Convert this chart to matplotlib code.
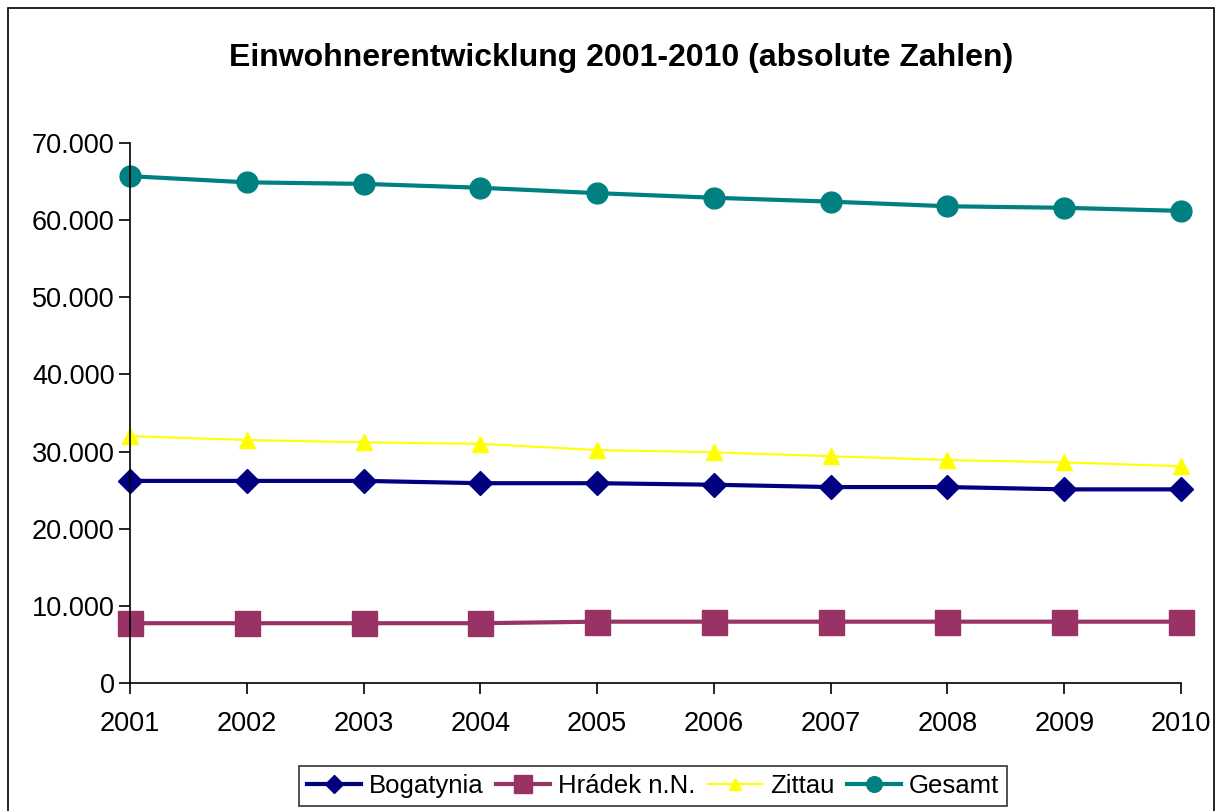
import matplotlib.pyplot as plt
from matplotlib.ticker import FuncFormatter
from matplotlib.patches import Rectangle

plt.rcParams['font.family'] = ['Liberation Sans', 'DejaVu Sans']

years = [2001, 2002, 2003, 2004, 2005, 2006, 2007, 2008, 2009, 2010]
bogatynia = [26200, 26200, 26200, 25900, 25900, 25700, 25400, 25400, 25100, 25100]
hradek = [7750, 7750, 7750, 7750, 7950, 7950, 7950, 7950, 7950, 7950]
zittau = [32000, 31500, 31200, 31000, 30200, 29900, 29400, 28900, 28600, 28100]
gesamt = [65700, 64900, 64700, 64200, 63500, 62900, 62400, 61800, 61600, 61200]

fig = plt.figure(figsize=(12.18, 8.11), dpi=100)
ax = fig.add_axes([130 / 1218, 1 - 683 / 811, 1051 / 1218, 540 / 811])

# outer chart frame
fig.patches.append(Rectangle((8 / 1218, -0.01), 1206 / 1218, 1 - 8 / 811 + 0.01,
                             transform=fig.transFigure, fill=False,
                             edgecolor='black', linewidth=1.2))

ax.plot(years, bogatynia, color='#000080', marker='D', markersize=12, linewidth=3, label='Bogatynia')
ax.plot(years, hradek, color='#993366', marker='s', markersize=18, linewidth=3, label='Hrádek n.N.')
ax.plot(years, zittau, color='#FFFF00', marker='^', markersize=11, linewidth=1.5, label='Zittau')
ax.plot(years, gesamt, color='#008080', marker='o', markersize=15, linewidth=3, label='Gesamt')

ax.set_xlim(2001, 2010)
ax.set_ylim(0, 70000)
ax.set_xticks(years)
ax.set_yticks(range(0, 70001, 10000))
ax.yaxis.set_major_formatter(FuncFormatter(lambda v, p: f'{int(v):,}'.replace(',', '.')))
ax.tick_params(labelsize=19.5, direction='out', length=8, width=1.2, pad=3)
ax.tick_params(axis='x', pad=12)
ax.spines['top'].set_visible(False)
ax.spines['right'].set_visible(False)
ax.spines['left'].set_linewidth(1.2)
ax.spines['bottom'].set_linewidth(1.2)
for l in ax.get_lines():
    l.set_clip_on(False)

fig.text(621 / 1218, 1 - 58 / 811, 'Einwohnerentwicklung 2001-2010 (absolute Zahlen)',
         ha='center', va='center', fontsize=23, fontweight='bold')

leg = fig.legend(loc='center', bbox_to_anchor=(653 / 1218, 1 - 786 / 811), ncol=4,
                 fontsize=18.5, frameon=True, fancybox=False, edgecolor='black',
                 handlelength=2.1, handletextpad=0.3, columnspacing=0.5,
                 borderpad=0.3, markerscale=0.75)
leg.get_frame().set_linewidth(1.2)

fig.savefig('out.png', dpi=100)
